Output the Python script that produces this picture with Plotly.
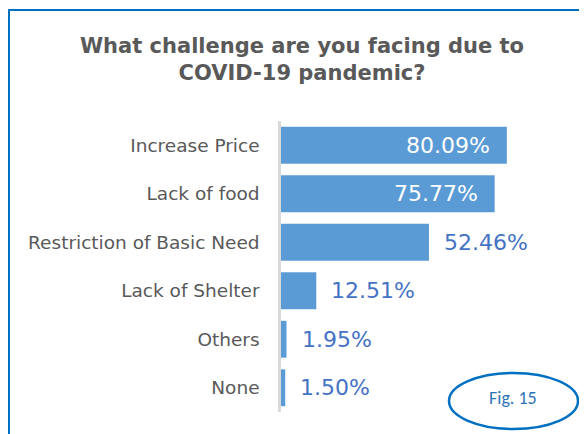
import plotly.graph_objects as go

categories = ["Increase Price", "Lack of food", "Restriction of Basic Need",
              "Lack of Shelter", "Others", "None"]
values = [80.09, 75.77, 52.46, 12.51, 1.95, 1.50]
value_labels = ["80.09%", "75.77%", "52.46%", "12.51%", "1.95%", "1.50%"]
title_text = "What challenge are you facing due to<br>COVID-19 pandemic?"
fig_label = "Fig. 15"

BAR = "#5B9BD5"
FRAME = "#0070C0"
GREY = "#595959"
LABEL_BLUE = "#4472C4"
FONT = "Tahoma, DejaVu Sans, sans-serif"

# the page body adds an 8px margin, so the figure is 8px smaller
W, H = 579, 426
ML, MR, MT, MB = 273, 24, 113, 22
PW, PH = W - ML - MR, H - MT - MB


def px_x(p):
    return (p - ML) / PW


def px_y(p):
    return (H - MB - p) / PH


fig = go.Figure(go.Bar(
    x=values, y=categories, orientation="h",
    marker=dict(color=BAR, line=dict(width=0)),
    hoverinfo="skip",
))

annotations = []
for c, v, t in zip(categories, values, value_labels):
    inside = v > 60
    annotations.append(dict(
        x=v, y=c, xref="x", yref="y", text=t, showarrow=False,
        xanchor="right" if inside else "left",
        xshift=-15 if inside else 13, yshift=0,
        font=dict(family=FONT, size=22, color="white" if inside else LABEL_BLUE),
    ))

annotations.append(dict(
    x=px_x(505), y=px_y(390), xref="paper", yref="paper", text=fig_label,
    showarrow=False, xanchor="center", yanchor="middle",
    font=dict(family="Calibri, Carlito, Liberation Sans, sans-serif", size=18, color="#2E75B6"),
))

shapes = [
    # frame: left and top
    dict(type="line", xref="paper", yref="paper", x0=px_x(1), x1=px_x(1),
         y0=px_y(1), y1=px_y(440), line=dict(color=FRAME, width=2)),
    dict(type="line", xref="paper", yref="paper", x0=px_x(0), x1=px_x(600),
         y0=px_y(2), y1=px_y(2), line=dict(color=FRAME, width=2)),
    # ellipse
    dict(type="circle", xref="paper", yref="paper", x0=px_x(441), x1=px_x(570),
         y0=px_y(421), y1=px_y(365), line=dict(color=FRAME, width=2.5)),
]

fig.update_layout(
    width=W, height=H,
    margin=dict(l=ML, r=MR, t=MT, b=MB, pad=0),
    paper_bgcolor="white", plot_bgcolor="white",
    bargap=0.24,
    showlegend=False,
    title=dict(text=title_text, x=294 / W, xref="container", xanchor="center",
               y=1 - 45 / H, yref="container", yanchor="top",
               font=dict(family=FONT, size=21, color=GREY, weight="bold")),
    xaxis=dict(range=[0, 100], visible=False, fixedrange=True),
    yaxis=dict(categoryorder="array", categoryarray=categories, autorange="reversed",
               showline=True, linecolor="#D9D9D9", linewidth=2.5, ticks="",
               showgrid=False, zeroline=False, ticklabelstandoff=15,
               tickfont=dict(family=FONT, size=18.5, color=GREY)),
    annotations=annotations,
    shapes=shapes,
)

fig.write_html("out.html")
